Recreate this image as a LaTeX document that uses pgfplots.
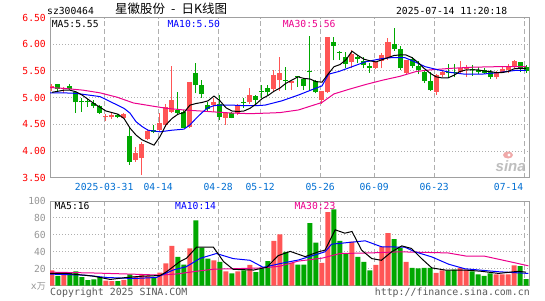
\documentclass[border=0pt]{standalone}
\usepackage{fontspec}
\usepackage{pgfplots}
\usepackage{pgfplotstable}
\pgfplotsset{compat=1.18}
\newfontfamily\mono{DejaVu Sans Mono}
\newfontfamily\cjk{Noto Sans CJK SC}
\newfontfamily\logo{Liberation Sans}
\newcommand\tfont{\fontsize{9.7}{11}\selectfont\mono}
\definecolor{cred}{RGB}{255,85,85}
\definecolor{cgreen}{RGB}{0,168,0}
\definecolor{dateblue}{RGB}{0,110,210}
\definecolor{framec}{RGB}{160,160,160}
\definecolor{gridc}{RGB}{175,175,175}
\definecolor{vgray}{RGB}{150,150,150}
\definecolor{logoc}{RGB}{190,190,190}
\definecolor{logored}{RGB}{240,170,170}

% day index, open, high, low, close, volume (10k)
\pgfplotstableread{
i o h l c v
0 5.19 5.25 5.12 5.21 18
2 5.16 5.20 5.08 5.18 14
9 4.63 4.70 4.56 4.65 6
10 4.63 4.72 4.60 4.67 5.5
12 4.62 4.72 4.61 4.70 7
14 3.83 4.08 3.80 3.97 11
15 3.87 4.17 3.55 4.14 13.5
16 4.22 4.42 4.20 4.37 11.5
18 4.39 4.71 4.36 4.52 15.5
19 4.48 4.89 4.45 4.83 26.5
20 4.74 5.60 4.71 4.96 47
23 4.45 5.30 4.43 5.30 44
27 4.86 5.00 4.74 4.91 30
29 4.62 4.72 4.49 4.71 17
31 4.71 4.89 4.68 4.86 17
33 4.91 5.19 4.89 5.05 24.5
37 5.16 5.52 5.10 5.43 53
38 5.33 5.77 5.13 5.47 60.5
40 5.27 5.31 5.14 5.31 27
45 4.96 5.13 4.89 5.13 27
46 5.10 6.14 5.08 6.14 87
50 5.66 5.89 5.55 5.81 52
54 5.56 5.69 5.54 5.67 24.5
55 5.69 5.83 5.55 5.79 46
56 5.75 6.11 5.71 6.05 62
59 5.46 5.71 5.43 5.71 28
64 5.11 5.44 5.05 5.42 15
65 5.43 5.52 5.39 5.48 18
68 5.48 5.69 5.44 5.55 21
69 5.54 5.61 5.39 5.58 19
74 5.38 5.50 5.35 5.48 13.5
75 5.49 5.58 5.46 5.54 13.5
76 5.52 5.63 5.46 5.58 13.5
77 5.58 5.71 5.54 5.69 24
}\upK

\pgfplotstableread{
i o h l c v
1 5.26 5.26 5.10 5.16 11.5
3 5.21 5.25 5.14 5.17 15
4 5.11 5.13 4.72 4.91 17
5 4.93 4.99 4.74 4.91 10
6 4.93 4.98 4.83 4.91 6.5
7 4.90 4.96 4.80 4.85 7.5
8 4.85 4.87 4.69 4.72 10
11 4.68 4.70 4.61 4.64 5.5
13 4.29 4.43 3.74 3.80 13.5
17 4.39 4.48 4.33 4.35 10.5
21 4.77 5.11 4.68 4.72 34
22 4.73 4.77 4.43 4.44 25
24 5.46 5.64 5.08 5.23 77
25 5.23 5.33 4.99 5.06 45
26 4.87 4.91 4.74 4.79 32
28 4.89 5.05 4.58 4.64 28
30 4.71 4.74 4.61 4.62 14.5
32 4.92 5.00 4.81 4.90 18
34 5.04 5.05 4.88 4.96 16
35 5.13 5.24 5.00 5.11 20
36 5.18 5.24 5.05 5.10 29
39 5.34 5.58 5.14 5.32 40
41 5.41 5.41 5.20 5.38 25
42 5.35 5.36 5.14 5.22 25
43 5.50 6.16 5.14 5.48 74
44 5.31 5.33 5.08 5.10 51
47 6.04 6.14 5.70 5.97 90
48 5.86 5.88 5.71 5.84 53
49 5.77 5.86 5.55 5.63 38
51 5.77 5.80 5.64 5.73 34
52 5.69 5.77 5.55 5.61 28
53 5.60 5.64 5.47 5.55 18
57 6.00 6.31 5.88 5.91 55
58 5.91 5.96 5.52 5.55 44.5
60 5.73 5.77 5.55 5.60 21
61 5.60 5.68 5.44 5.52 20.5
62 5.48 5.52 5.27 5.31 21
63 5.31 5.49 5.13 5.14 21
66 5.48 5.63 5.36 5.46 18
67 5.49 5.63 5.38 5.47 19
70 5.53 5.61 5.41 5.51 17
71 5.52 5.58 5.44 5.48 13.5
72 5.52 5.55 5.44 5.46 11.5
73 5.48 5.52 5.35 5.38 14.5
78 5.66 5.67 5.49 5.56 23
79 5.58 5.61 5.47 5.50 7.7
}\downK

% price moving averages
\pgfplotstableread{
i v
0 5.10
2 5.14
3 5.14
4 5.11
5 5.05
7 4.89
9 4.75
11 4.69
12 4.61
13 4.43
14 4.30
15 4.21
16 4.16
17 4.11
18 4.27
19 4.49
20 4.61
21 4.69
22 4.72
23 4.86
24 4.89
25 4.91
26 4.94
27 5.03
28 4.94
29 4.81
30 4.75
31 4.74
32 4.75
33 4.80
34 4.88
35 4.98
36 5.04
37 5.12
38 5.18
39 5.27
40 5.33
41 5.39
42 5.36
43 5.35
44 5.30
45 5.29
46 5.44
47 5.58
48 5.62
49 5.71
50 5.87
51 5.79
52 5.72
53 5.69
54 5.67
55 5.71
56 5.75
57 5.79
58 5.80
59 5.80
60 5.75
61 5.66
62 5.55
63 5.46
64 5.39
65 5.37
66 5.37
67 5.42
68 5.49
69 5.52
70 5.52
71 5.52
72 5.50
73 5.49
74 5.47
75 5.47
76 5.49
77 5.54
78 5.55
79 5.55
}\maPfive

\pgfplotstableread{
i v
-0.3 5.09
2 5.09
4 5.08
6 5.05
8 5.02
10 4.91
12 4.80
13 4.71
14 4.55
15 4.46
16 4.39
18 4.36
20 4.39
22 4.41
23 4.49
24 4.61
25 4.72
26 4.81
27 4.85
28 4.86
30 4.86
32 4.85
34 4.85
35.5 4.86
38.3 4.94
41.1 5.05
43.8 5.17
45 5.22
46.1 5.44
47.8 5.49
50 5.58
52.2 5.67
54.9 5.73
56.6 5.75
58.8 5.75
60.5 5.67
62.2 5.58
64.4 5.52
66.6 5.47
68.8 5.44
71.6 5.44
74.4 5.47
77.2 5.51
79 5.51
}\maPten

\pgfplotstableread{
i v
-0.3 5.19
2.4 5.17
5.2 5.14
8 5.09
10.8 5.01
13.6 4.90
16.3 4.85
19.1 4.80
21.9 4.77
24.7 4.75
27.4 4.73
30.2 4.71
33 4.70
35.8 4.71
38 4.72
41.1 4.77
45 4.91
47 5.07
49.6 5.16
52.4 5.25
55.2 5.33
58 5.40
60.7 5.49
63 5.52
66.6 5.55
70 5.57
74 5.58
79 5.58
}\maPthirty

% volume moving averages
\pgfplotstableread{
i v
-0.3 14.5
2.4 14.5
6.9 11.3
9.7 7.4
12.4 9.7
15.2 11.3
18 12
19.1 16.5
21.3 28.4
22.4 32.3
24.1 45.5
25.8 45.5
26.9 45.5
28.6 28.4
30.2 19.3
33.6 18.5
35.8 21.7
37.7 35.5
39.7 40.5
42.2 34.3
44.4 40
45.5 42
47.2 66
48.8 62
50 64
51.6 42
53.3 32
54.9 30
56.6 40
58.3 47
59.9 44
61.6 32
63.3 21
65.5 18.5
68.8 18.5
71.6 17
74.4 14.5
77.7 17
79 16
}\maVfive

\pgfplotstableread{
i v
-0.3 13.7
5.4 12.5
9.1 9.7
13.6 8.5
17.4 9.7
20.2 18.5
22.4 22.5
24.7 32.3
27.4 38
30.2 32
33 30
35.2 21.7
38.3 26.5
41.1 30.4
45.5 40
46.6 49
52.2 53
54.9 46
58.8 45.5
60.5 40
63.3 34
66.1 25.4
68.8 20
74.4 16.5
79.4 14.5
}\maVten

\pgfplotstableread{
i v
-0.3 16
7 15
14 13.5
18 12.5
21 14
24 17
27 19.5
30 20
35 21
38 23
41 29
45 32.5
48 38
53 38.7
58 40
66 38.7
69 35
72 35
75.5 29.6
79.4 23.5
}\maVthirty

\pgfplotsset{
  sina/.style={
    scale only axis, width=479pt,
    xmin=-0.33, xmax=79.5,
    axis line style={draw=framec, line width=1pt},
    major tick length=0pt, tick style={draw=none},
    xtick={8.7,17.7,27.7,34.7,44.7,53.7,63.7,78.7},
    xmajorgrids, ymajorgrids,
    every axis x grid/.append style={draw=gridc, line width=1pt, dash pattern=on 5pt off 3pt},
    every axis y grid/.append style={draw=gridc, line width=1pt, dash pattern=on 1pt off 2pt},
    yticklabel style={font=\tfont, inner sep=0pt, xshift=-4pt},
  },
  wick/.style={draw=none, forget plot, error bars/.cd, y dir=plus, y explicit,
    error mark=none, error bar style={draw=#1, line width=1pt, solid}},
  body/.style={draw=none, forget plot, error bars/.cd, y dir=plus, y explicit,
    error mark=none, error bar style={draw=#1, line width=5pt, solid}},
}

\begin{document}
\begin{tikzpicture}[x=1pt,y=1pt]
\path[use as bounding box] (0,0) rectangle (545,300);

% price panel
\begin{axis}[sina, at={(50pt,122.3pt)}, anchor=south west, height=160.1pt,
    ymin=3.5, ymax=6.5, ytick={3.5,4,4.5,5,5.5,6,6.5},
    yticklabels={3.50,4.00,4.50,5.00,5.50,6.00,6.50},
    yticklabel style={text=red},
    xticklabels={2025-03-31,04-14,04-28,05-12,05-26,06-09,06-23,{}},
    xticklabel style={font=\tfont, text=dateblue, inner sep=0pt, yshift=-5.6pt},
  ]
  \addplot[wick=cred] table[x=i, y=l, y error plus expr=\thisrow{h}-\thisrow{l}] {\upK};
  \addplot[wick=cgreen] table[x=i, y=l, y error plus expr=\thisrow{h}-\thisrow{l}] {\downK};
  \addplot[body=cred] table[x=i, y=o, y error plus expr=\thisrow{c}-\thisrow{o}] {\upK};
  \addplot[body=cgreen] table[x=i, y=c, y error plus expr=\thisrow{o}-\thisrow{c}] {\downK};
  \addplot[magenta, line width=1pt] table[x=i, y=v] {\maPthirty};
  \addplot[blue, line width=1pt] table[x=i, y=v] {\maPten};
  \addplot[black, line width=1pt] table[x=i, y=v] {\maPfive};
\end{axis}

% volume panel
\begin{axis}[sina, at={(50pt,14.3pt)}, anchor=south west, height=84.7pt,
    ymin=0, ymax=100, ytick={20,40,60,80,100},
    yticklabels={20,40,60,80,100},
    yticklabel style={text=vgray},
    xticklabels={{},{},{},{},{},{},{},{}},
  ]
  \addplot[ybar, bar width=5pt, bar shift=0pt, fill=cred, draw=none] table[x=i, y=v] {\upK};
  \addplot[ybar, bar width=5pt, bar shift=0pt, fill=cgreen, draw=none] table[x=i, y=v] {\downK};
  \addplot[magenta, line width=1pt] table[x=i, y=v] {\maVthirty};
  \addplot[blue, line width=1pt] table[x=i, y=v] {\maVten};
  \addplot[black, line width=1pt] table[x=i, y=v] {\maVfive};
\end{axis}

% header
\node[anchor=base west, inner sep=0pt, font=\tfont] at (47,285) {sz300464};
\node[anchor=base west, inner sep=0pt, font=\fontsize{12.5}{13}\selectfont\cjk] at (115,286) {星徽股份\hspace{6pt}-\hspace{6pt}日K线图};
\node[anchor=base east, inner sep=0pt, font=\tfont] at (507.3,285) {2025-07-14 11:20:18};

% moving average legends
\node[anchor=base west, inner sep=0pt, font=\tfont] at (51.7,272.7) {MA5:5.55};
\node[anchor=base west, inner sep=0pt, font=\tfont, text=blue] at (167.3,272.7) {MA10:5.50};
\node[anchor=base west, inner sep=0pt, font=\tfont, text=magenta] at (282.7,272.7) {MA30:5.56};
\node[anchor=base west, inner sep=0pt, font=\tfont] at (54.3,90.7) {MA5:16};
\node[anchor=base west, inner sep=0pt, font=\tfont, text=blue] at (175,90.7) {MA10:14};
\node[anchor=base west, inner sep=0pt, font=\tfont, text=magenta] at (294.3,90.7) {MA30:23};

% last date label kept inside the frame
\node[anchor=north east, inner sep=0pt, font=\tfont, text=dateblue] at (523.3,116.7) {07-14};

% unit of the volume axis
\node[anchor=east, inner sep=0pt, text=vgray] at (46,14) {{\tfont x}{\fontsize{9}{10}\selectfont\cjk 万}};

% footer
\node[anchor=base west, inner sep=0pt, font=\fontsize{9.9}{11}\selectfont\mono, text=black!65] at (50,4.7) {Copyright 2025 SINA.COM};
\node[anchor=base east, inner sep=0pt, font=\fontsize{9.9}{11}\selectfont\mono, text=black!65] at (530,4.7) {http://finance.sina.com.cn};

% sina watermark
\fill[logored] (508,145) ellipse (5 and 3.5);
\fill[white] (509,145) circle (1.6);
\node[anchor=base west, inner sep=0pt, font=\fontsize{15}{15}\selectfont\logo\bfseries\itshape, text=logoc] at (495.5,128.5) {sina};
\end{tikzpicture}
\end{document}
